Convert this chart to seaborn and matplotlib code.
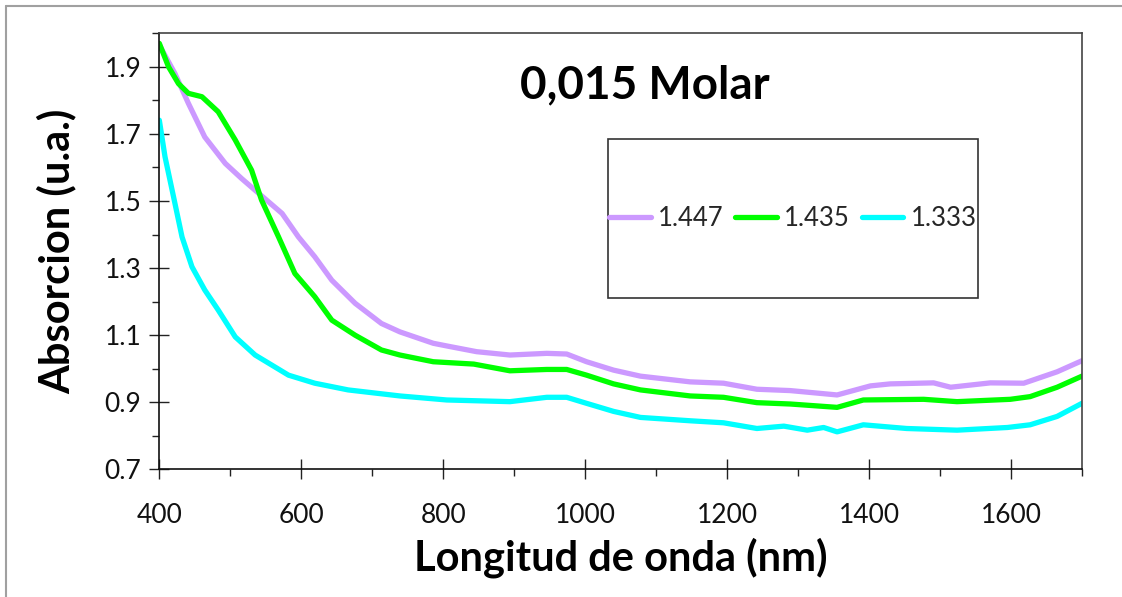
import numpy as np
import pandas as pd
import matplotlib
matplotlib.use("Agg")
import matplotlib.pyplot as plt
from matplotlib.patches import Rectangle
from matplotlib.lines import Line2D
from matplotlib.ticker import MultipleLocator
import seaborn as sns

# ---- data ----
series_labels = ["1.447", "1.435", "1.333"]
series_colors = ["#CC99FF", "#00FF00", "#00FFFF"]

wl_1447 = [400, 422, 441, 464, 493, 516, 540, 573, 596, 619, 643, 676, 713, 739, 786, 810, 847,
           894, 946, 974, 1002, 1040, 1078, 1148, 1195, 1242, 1289, 1355, 1402, 1430, 1491, 1515,
           1571, 1618, 1665, 1700]
abs_1447 = [1.965, 1.880, 1.791, 1.691, 1.612, 1.567, 1.523, 1.463, 1.393, 1.334, 1.264, 1.195,
            1.135, 1.110, 1.076, 1.066, 1.051, 1.041, 1.046, 1.044, 1.021, 0.996, 0.978, 0.961,
            0.957, 0.939, 0.935, 0.922, 0.949, 0.955, 0.958, 0.945, 0.958, 0.957, 0.991, 1.024]

wl_1435 = [400, 413, 427, 441, 460, 483, 507, 530, 544, 568, 591, 619, 643, 676, 713, 739, 786,
           843, 894, 946, 974, 1002, 1040, 1078, 1148, 1195, 1242, 1289, 1355, 1392, 1477, 1524,
           1599, 1627, 1665, 1700]
abs_1435 = [1.970, 1.900, 1.850, 1.821, 1.811, 1.766, 1.682, 1.592, 1.503, 1.393, 1.284, 1.215,
            1.145, 1.100, 1.056, 1.041, 1.021, 1.014, 0.994, 0.998, 0.998, 0.981, 0.955, 0.937,
            0.919, 0.915, 0.899, 0.895, 0.885, 0.907, 0.909, 0.902, 0.909, 0.917, 0.945, 0.978]

wl_1333 = [400, 408, 420, 432, 446, 464, 483, 507, 535, 582, 619, 666, 739, 805, 894, 946, 974,
           1002, 1040, 1078, 1148, 1195, 1242, 1280, 1313, 1336, 1355, 1392, 1453, 1524, 1595,
           1627, 1665, 1700]
abs_1333 = [1.741, 1.632, 1.513, 1.393, 1.304, 1.235, 1.175, 1.095, 1.041, 0.981, 0.957, 0.937,
            0.919, 0.907, 0.902, 0.915, 0.915, 0.897, 0.873, 0.855, 0.845, 0.839, 0.822, 0.829,
            0.817, 0.825, 0.812, 0.833, 0.822, 0.817, 0.825, 0.833, 0.858, 0.897]

x_ticks = [400, 600, 800, 1000, 1200, 1400, 1600]
y_ticks = [0.7, 0.9, 1.1, 1.3, 1.5, 1.7, 1.9]

title_text = "0,015 Molar"
xlabel_text = "Longitud de onda (nm)"
ylabel_text = "Absorcion (u.a.)"

# ---- build long-form table ----
frames = []
for lab, wl, ab in zip(series_labels, [wl_1447, wl_1435, wl_1333], [abs_1447, abs_1435, abs_1333]):
    frames.append(pd.DataFrame({"wl": wl, "abs": ab, "serie": lab}))
df = pd.concat(frames, ignore_index=True)

sns.set_theme(style="white")
plt.rcParams["font.family"] = ["Lato", "DejaVu Sans"]

fig = plt.figure(figsize=(11.22, 5.97), dpi=100)
ax = fig.add_axes([0.142, 0.2137, 0.8223, 0.7305])

sns.lineplot(data=df, x="wl", y="abs", hue="serie", hue_order=series_labels,
             palette=dict(zip(series_labels, series_colors)), estimator=None, sort=False,
             linewidth=3.8, ax=ax, legend=False)

ax.set_xlim(400, 1700)
ax.set_ylim(0.7, 2.0)
ax.set_xticks(x_ticks)
ax.set_xticklabels([str(v) for v in x_ticks])
ax.set_yticks(y_ticks)
ax.set_yticklabels([f"{v:.1f}" for v in y_ticks])
ax.xaxis.set_minor_locator(MultipleLocator(100))
ax.yaxis.set_minor_locator(MultipleLocator(0.1))

ax.tick_params(axis="both", which="major", direction="inout", length=14, width=1.0,
               color="#222222", labelsize=19, labelcolor="#111111")
ax.tick_params(axis="both", which="minor", direction="out", length=5, width=1.0, color="#222222")
ax.tick_params(axis="x", which="major", pad=17)
ax.tick_params(axis="y", which="major", pad=6)
ax.tick_params(bottom=True, left=True, which="both")

for side, sp in ax.spines.items():
    sp.set_visible(True)
    sp.set_color("#111111" if side in ("left", "bottom") else "#444444")
    sp.set_linewidth(1.2)

ax.set_xlabel(xlabel_text, fontsize=30, fontweight="bold", labelpad=7, color="black")
ax.set_ylabel(ylabel_text, fontsize=30, fontweight="bold", labelpad=20, color="black")

ax.text(0.526, 0.88, title_text, transform=ax.transAxes, ha="center", va="center",
        fontsize=33, fontweight="bold", color="black")

# legend box
box_x0, box_y0, box_x1, box_y1 = 0.4863, 0.393, 0.8873, 0.7576
ax.add_patch(Rectangle((box_x0, box_y0), box_x1 - box_x0, box_y1 - box_y0,
                       transform=ax.transAxes, fill=True, facecolor="white",
                       edgecolor="#333333", linewidth=1.2, zorder=5))
handles = [Line2D([0], [0], color=c, lw=3.8, solid_capstyle="round") for c in series_colors]
leg = ax.legend(handles, series_labels, ncol=3, frameon=False, fontsize=18.5,
                loc="center", bbox_to_anchor=((box_x0 + box_x1) / 2, (box_y0 + box_y1) / 2),
                bbox_transform=ax.transAxes, handlelength=1.6, handletextpad=0.3,
                columnspacing=0.45, borderpad=0, borderaxespad=0)
leg.set_zorder(6)

# outer chart frame (top and left edges visible)
fig.add_artist(Line2D([6 / 1122, 1.0], [1 - 6 / 597, 1 - 6 / 597], transform=fig.transFigure,
                      color="#A0A0A0", lw=1.5))
fig.add_artist(Line2D([6 / 1122, 6 / 1122], [0.0, 1 - 6 / 597], transform=fig.transFigure,
                      color="#A0A0A0", lw=1.5))

fig.savefig("out.png", dpi=100, facecolor="white")
